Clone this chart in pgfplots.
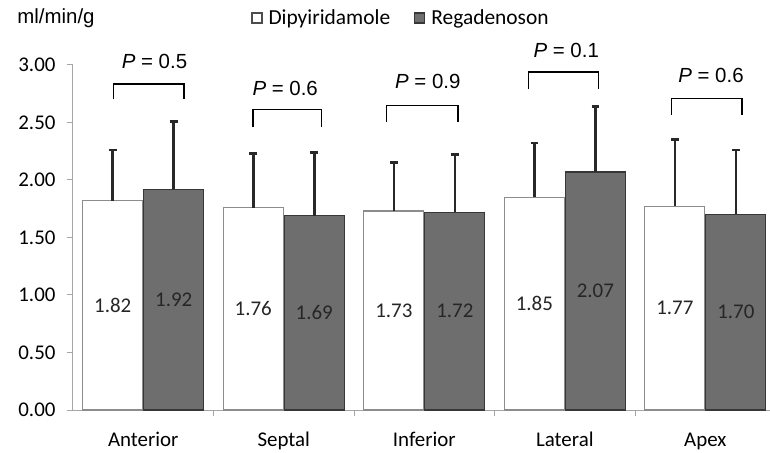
\documentclass[border=0pt]{standalone}
\usepackage{pgfplots}
\pgfplotsset{compat=1.18}
\usepackage{fontspec}
\setmainfont{Carlito}
\newfontfamily\arial{Liberation Sans}
\definecolor{regfill}{RGB}{110,110,110}
\definecolor{regedge}{RGB}{55,55,55}
\definecolor{dipedge}{RGB}{140,140,140}
\definecolor{axgray}{RGB}{165,165,165}
\definecolor{errc}{RGB}{40,40,40}
\newcommand{\bigfont}{\fontsize{21}{25}\selectfont}
\newcommand{\pfont}{\arial\fontsize{20.5}{24}\selectfont}
\begin{document}
\begin{tikzpicture}
\begin{axis}[
  name=ax,
  scale only axis,
  width=697bp, height=345bp,
  xmin=-0.5, xmax=4.46,
  ymin=0, ymax=3,
  axis lines=left,
  axis line style={draw=axgray, line width=1bp, -},
  clip=false,
  ybar=1bp, bar width=60bp,
  /pgf/number format/.cd, fixed, fixed zerofill, precision=2, assume math mode=true, /pgfplots/.cd,
  xtick={0.5,1.5,2.5,3.5},
  xticklabels={},
  extra x ticks={0,1,2,3,4},
  extra x tick labels={Anterior,Septal,Inferior,Lateral,Apex},
  extra x tick style={major tick length=0pt},
  xticklabel style={font=\bigfont, anchor=base, yshift=-36bp},
  ytick={0,0.5,1,1.5,2,2.5,3},
  yticklabel style={font=\bigfont, xshift=-8bp},
  tick align=outside,
  major tick length=6bp,
  tick style={draw=axgray, line width=1bp},
  legend style={at={(axis cs:1.834,3.409)}, anchor=center, draw=none, fill=none,
     font=\fontsize{21.5}{25}\selectfont, legend columns=2,
     /tikz/every odd column/.append style={column sep=4bp},
     /tikz/every even column/.append style={column sep=22bp}},
  legend cell align=left,
  nodes near coords,
  visualization depends on=rawy \as \rawy,
  every node near coord/.append style={anchor=center, font=\bigfont, text=black!85,
     shift={(axis direction cs:0,-\rawy/2)}},
]
\addplot[fill=white, draw=dipedge, line width=1.2bp,
  legend image code/.code={\draw[fill=white, draw=black!70, line width=1.2bp] (0bp,-5bp) rectangle (10bp,5bp);},
  error bars/.cd, y dir=plus, y explicit,
  error bar style={line width=2.6bp, draw=errc},
  error mark options={rotate=90, line width=2.6bp, mark size=3.8bp, draw=errc},
] coordinates {
  (0,1.82) +- (0,0.44)
  (1,1.76) +- (0,0.47)
  (2,1.73) +- (0,0.42)
  (3,1.85) +- (0,0.47)
  (4,1.77) +- (0,0.58)
};
\addlegendentry{Dipyiridamole}
\addplot[fill=regfill, draw=regedge, line width=1.2bp,
  legend image code/.code={\draw[fill=regfill, draw=regedge, line width=1.2bp] (0bp,-5bp) rectangle (10bp,5bp);},
  error bars/.cd, y dir=plus, y explicit,
  error bar style={line width=2.6bp, draw=errc},
  error mark options={rotate=90, line width=2.6bp, mark size=3.8bp, draw=errc},
] coordinates {
  (0,1.92) +- (0,0.59)
  (1,1.69) +- (0,0.55)
  (2,1.72) +- (0,0.50)
  (3,2.07) +- (0,0.57)
  (4,1.70) +- (0,0.56)
};
\addlegendentry{Regadenoson}
% brackets
\draw[line width=1.3bp] (axis cs:-0.21,2.70) -- (axis cs:-0.21,2.835) -- (axis cs:0.29,2.835) -- (axis cs:0.29,2.70);
\draw[line width=1.3bp] (axis cs:0.78,2.46) -- (axis cs:0.78,2.61) -- (axis cs:1.27,2.61) -- (axis cs:1.27,2.46);
\draw[line width=1.3bp] (axis cs:1.73,2.50) -- (axis cs:1.73,2.65) -- (axis cs:2.24,2.65) -- (axis cs:2.24,2.50);
\draw[line width=1.3bp] (axis cs:2.74,2.79) -- (axis cs:2.74,2.94) -- (axis cs:3.24,2.94) -- (axis cs:3.24,2.79);
\draw[line width=1.3bp] (axis cs:3.76,2.565) -- (axis cs:3.76,2.71) -- (axis cs:4.26,2.71) -- (axis cs:4.26,2.565);
\node[font=\pfont] at (axis cs:0.08,3.03) {\textit{P} = 0.5};
\node[font=\pfont] at (axis cs:1.01,2.80) {\textit{P} = 0.6};
\node[font=\pfont] at (axis cs:2.025,2.855) {\textit{P} = 0.9};
\node[font=\pfont] at (axis cs:3.01,3.13) {\textit{P} = 0.1};
\node[font=\pfont] at (axis cs:4.04,2.91) {\textit{P} = 0.6};
\node[font=\pfont] at (axis cs:-0.621,3.409) {ml/min/g};
\end{axis}
\pgfresetboundingbox
\path[use as bounding box] ([xshift=-73bp,yshift=-43bp]ax.south west) rectangle ([xshift=697bp,yshift=410bp]ax.south west);
\end{tikzpicture}
\end{document}
